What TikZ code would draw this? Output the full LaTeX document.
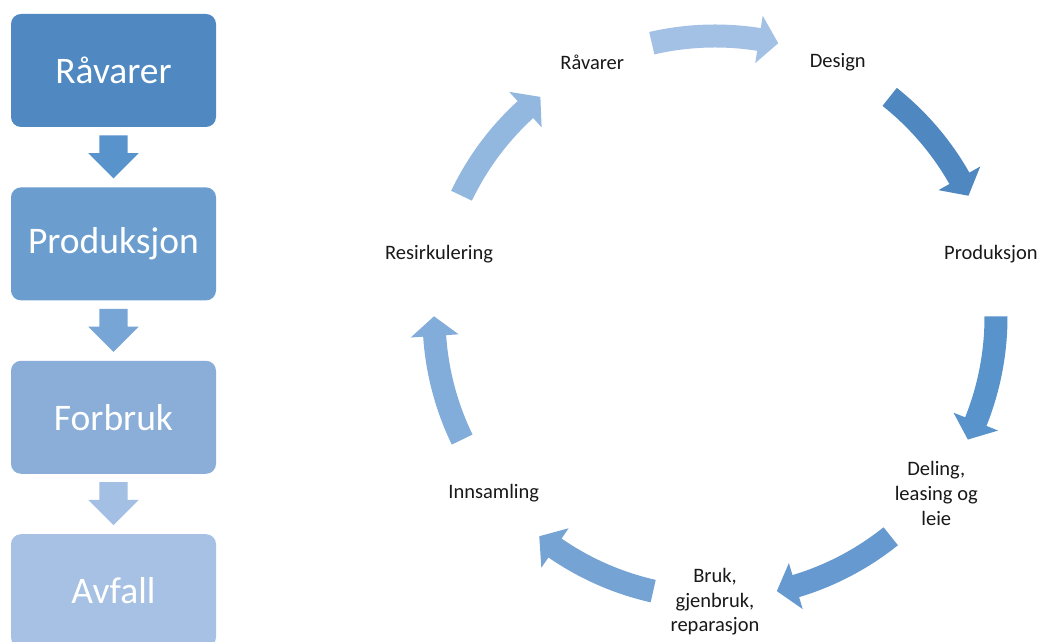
\documentclass[tikz,border=0pt]{standalone}
\usepackage{fontspec}
\setmainfont{Carlito}
\usetikzlibrary{calc,positioning,shapes.arrows}

\definecolor{boxA}{HTML}{5088C1}
\definecolor{boxB}{HTML}{6B9ECE}
\definecolor{boxC}{HTML}{8AAED8}
\definecolor{boxD}{HTML}{A6C1E3}
\definecolor{downA}{HTML}{5893CC}
\definecolor{downB}{HTML}{77A5D6}
\definecolor{downC}{HTML}{A3BFE3}
\definecolor{cycA}{HTML}{A3C1E4}
\definecolor{cycB}{HTML}{4F88C0}
\definecolor{cycC}{HTML}{5993CB}
\definecolor{cycD}{HTML}{6699CF}
\definecolor{cycE}{HTML}{74A3D4}
\definecolor{cycF}{HTML}{82ACD9}
\definecolor{cycG}{HTML}{93B8DF}

% curved block arrow on the cycle: #1 middle angle, #2 colour
\newcommand{\cycarrow}[2]{%
  \fill[#2] ($(cyc)+(#1+13:292.5pt)$) arc[start angle=#1+13, end angle=#1-9, radius=292.5pt]
    -- ($(cyc)+(#1-9:305pt)$) -- ($(cyc)+(#1-13:281pt)$) -- ($(cyc)+(#1-9:257pt)$)
    -- ($(cyc)+(#1-9:269.5pt)$) arc[start angle=#1-9, end angle=#1+13, radius=269.5pt] -- cycle;}

\begin{document}
\begin{tikzpicture}[
    x=1pt, y=1pt,
    % general settings
    node distance=60pt,
    align=center,
    % nodes
    box/.style={rectangle, rounded corners=10pt, minimum width=205pt, minimum height=113pt,
                text=white, font=\fontsize{37.5}{45}\selectfont},
    lbl/.style={text=black!90, font=\fontsize{20.5}{24.6}\selectfont},
    % arrows
    down/.style={single arrow, rotate=-90, anchor=tail, minimum height=43pt, inner xsep=0pt,
                 inner ysep=14pt, single arrow head extend=11pt}
  ]

  \fill[white] (0,0) rectangle (1042,642);
  \useasboundingbox (0,0) rectangle (1042,642);

  % linear chain
  \node (raw)   [box, fill=boxA] at (113.5,571.5) {Råvarer};
  \node (prod)  [box, fill=boxB, below=of raw]    {Produksjon};
  \node (use)   [box, fill=boxC, below=of prod]   {Forbruk};
  \node (waste) [box, fill=boxD, below=of use]    {Avfall};

  \node (d1) [down, fill=downA] at ($(raw.south)+(0,-8)$)  {};
  \node (d2) [down, fill=downB] at ($(prod.south)+(0,-8)$) {};
  \node (d3) [down, fill=downC] at ($(use.south)+(0,-8)$)  {};

  % circular economy
  \coordinate (cyc) at (715,325);

  \node (craw)    [lbl] at ($(cyc)+(115.71:283pt)$)  {Råvarer};
  \node (design)  [lbl] at ($(cyc)+(64.29:283pt)$)   {Design};
  \node (cprod)   [lbl] at ($(cyc)+(12.86:283pt)$)   {Produksjon};
  \node (share)   [lbl] at ($(cyc)+(-38.57:283pt)$)  {Deling,\\leasing og\\leie};
  \node (reuse)   [lbl] at ($(cyc)+(-90:285pt)$)     {Bruk,\\gjenbruk,\\reparasjon};
  \node (collect) [lbl] at ($(cyc)+(-141.43:283pt)$) {Innsamling};
  \node (recycle) [lbl] at ($(cyc)+(167.14:283pt)$)  {Resirkulering};

  \foreach \ang/\col in {90/cycA, 38.57/cycB, -12.86/cycC, -64.29/cycD,
                         -115.71/cycE, -167.14/cycF, 141.43/cycG}
    \cycarrow{\ang}{\col};
\end{tikzpicture}
\end{document}
